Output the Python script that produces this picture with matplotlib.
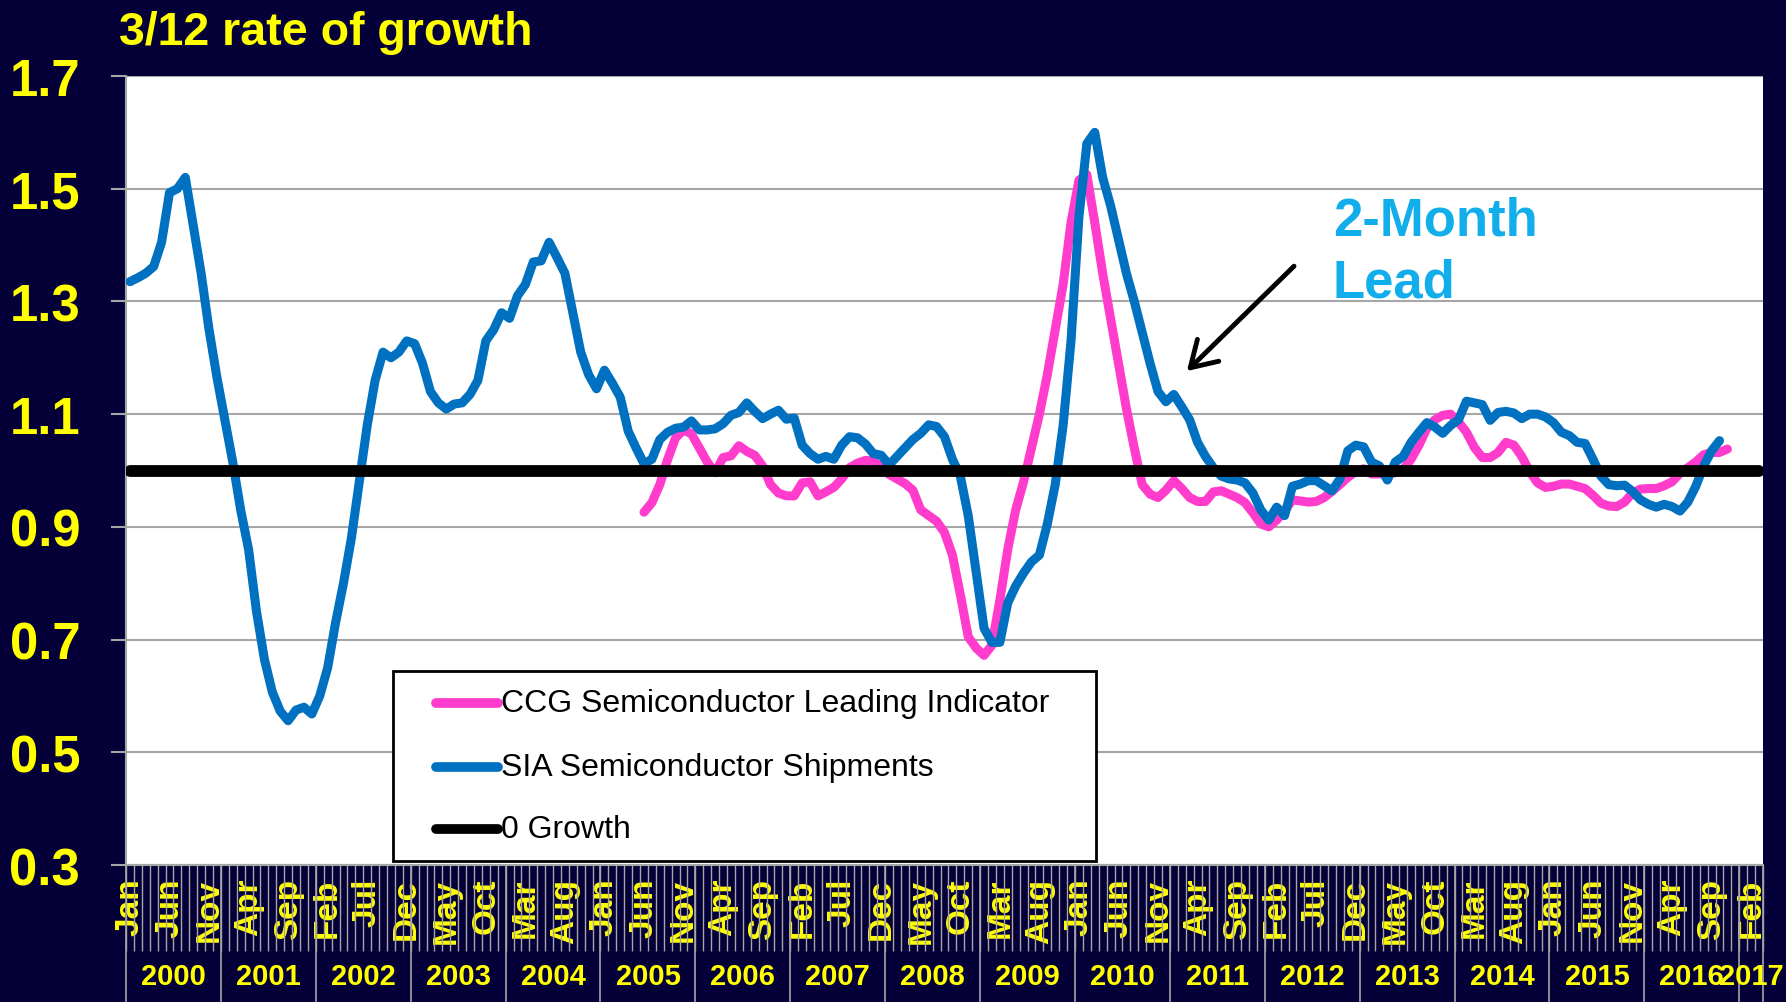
import matplotlib.pyplot as plt
from matplotlib.patches import Rectangle
import numpy as np

plt.rcParams['font.family'] = ['Liberation Sans', 'DejaVu Sans']

BG, YELLOW, GRID = '#050038', '#FFFF00', '#A6A6A6'
PINK, BLUE, CYAN = '#FF3CCB', '#0070C0', '#12AEEB'

MONTH_NAMES = ['Jan', 'Feb', 'Mar', 'Apr', 'May', 'Jun',
               'Jul', 'Aug', 'Sep', 'Oct', 'Nov', 'Dec']
FIRST_YEAR = 2000
N_MONTHS = 207          # Jan 2000 .. Mar 2017 on the category axis
LABEL_EVERY = 5
Y_TICKS = [0.3, 0.5, 0.7, 0.9, 1.1, 1.3, 1.5, 1.7]
ZERO_GROWTH = 1.0

# SIA Semiconductor Shipments, 3/12 ratio, monthly from Jan 2000
SIA_START = 0
SIA_SHIPMENTS = [
    1.335, 1.342, 1.350, 1.362, 1.405, 1.493, 1.500, 1.520, 1.435, 1.350, 1.250, 1.165,
    1.090, 1.015, 0.930, 0.860, 0.750, 0.665, 0.607, 0.573, 0.556, 0.575, 0.580, 0.568,
    0.600, 0.650, 0.730, 0.800, 0.880, 0.980, 1.080, 1.160, 1.210, 1.200, 1.210, 1.230,
    1.225, 1.190, 1.140, 1.120, 1.109, 1.118, 1.120, 1.135, 1.160, 1.230, 1.250, 1.280,
    1.270, 1.310, 1.330, 1.370, 1.372, 1.405, 1.378, 1.350, 1.280, 1.210, 1.170, 1.145,
    1.178, 1.155, 1.130, 1.070, 1.040, 1.012, 1.020, 1.055, 1.068, 1.075, 1.077, 1.088,
    1.072, 1.072, 1.074, 1.083, 1.098, 1.103, 1.120, 1.105, 1.092, 1.100, 1.107, 1.091,
    1.093, 1.045, 1.030, 1.020, 1.025, 1.020, 1.045, 1.060, 1.058, 1.047, 1.030, 1.027,
    1.010, 1.025, 1.040, 1.055, 1.066, 1.081, 1.078, 1.060, 1.020, 0.990, 0.920, 0.820,
    0.720, 0.695, 0.695, 0.765, 0.795, 0.818, 0.838, 0.850, 0.905, 0.975, 1.080, 1.230,
    1.450, 1.580, 1.600, 1.520, 1.470, 1.410, 1.350, 1.300, 1.245, 1.190, 1.140, 1.122,
    1.135, 1.113, 1.090, 1.050, 1.025, 1.005, 0.990, 0.985, 0.983, 0.978, 0.960, 0.930,
    0.912, 0.935, 0.920, 0.972, 0.976, 0.982, 0.982, 0.973, 0.964, 0.985, 1.035, 1.045,
    1.042, 1.015, 1.008, 0.983, 1.015, 1.025, 1.050, 1.068, 1.085, 1.077, 1.066, 1.080,
    1.090, 1.123, 1.120, 1.117, 1.089, 1.103, 1.105, 1.102, 1.092, 1.100, 1.100, 1.095,
    1.085, 1.068, 1.062, 1.050, 1.048, 1.020, 0.990, 0.975, 0.973, 0.974, 0.963, 0.948,
    0.940, 0.935, 0.940, 0.936, 0.928, 0.944, 0.972, 1.008, 1.035, 1.053,
]

# CCG Semiconductor Leading Indicator, monthly from Jun 2005
CCG_START = 65
CCG_INDICATOR = [
    0.926, 0.943, 0.975, 1.020, 1.058, 1.072, 1.065, 1.040, 1.015, 0.996, 1.023, 1.026,
    1.044, 1.034, 1.027, 1.008, 0.975, 0.960, 0.955, 0.955, 0.978, 0.980, 0.955, 0.962,
    0.970, 0.985, 1.005, 1.013, 1.018, 1.017, 1.005, 0.993, 0.985, 0.977, 0.965, 0.930,
    0.920, 0.910, 0.890, 0.850, 0.780, 0.705, 0.685, 0.672, 0.690, 0.770, 0.860, 0.930,
    0.980, 1.040, 1.100, 1.170, 1.250, 1.330, 1.440, 1.515, 1.525, 1.440, 1.350, 1.270,
    1.190, 1.110, 1.040, 0.975, 0.958, 0.952, 0.965, 0.982, 0.968, 0.952, 0.945, 0.945,
    0.962, 0.964, 0.958, 0.952, 0.943, 0.925, 0.905, 0.900, 0.912, 0.928, 0.948, 0.946,
    0.944, 0.945, 0.952, 0.963, 0.975, 0.988, 0.998, 1.003, 0.994, 0.994, 0.994, 0.996,
    1.002, 1.020, 1.045, 1.075, 1.090, 1.098, 1.100, 1.086, 1.068, 1.041, 1.023, 1.023,
    1.032, 1.050, 1.045, 1.025, 0.998, 0.978, 0.970, 0.972, 0.976, 0.976, 0.972, 0.968,
    0.956, 0.942, 0.937, 0.936, 0.944, 0.960, 0.967, 0.968, 0.968, 0.973, 0.980, 0.995,
    1.005, 1.015, 1.028, 1.032, 1.032, 1.038,
]

SERIES_NAMES = ['CCG Semiconductor Leading Indicator',
                'SIA Semiconductor Shipments', '0 Growth']

fig = plt.figure(figsize=(17.86, 10.03), dpi=100, facecolor=BG)
ax = fig.add_axes([0.07055, 0.13659, 0.91657, 0.78664])
ax.set_facecolor('white')

# series, categories centred between tick marks (Excel style)
x_ccg = np.arange(len(CCG_INDICATOR)) + CCG_START + 0.5
x_sia = np.arange(len(SIA_SHIPMENTS)) + SIA_START + 0.5
x_all = np.arange(N_MONTHS) + 0.5
ax.plot(x_ccg, CCG_INDICATOR, color=PINK, lw=6.5, solid_capstyle='round',
        solid_joinstyle='round', zorder=3)
ax.plot(x_sia, SIA_SHIPMENTS, color=BLUE, lw=6.5, solid_capstyle='round',
        solid_joinstyle='round', zorder=4)
ax.plot(x_all, np.full(N_MONTHS, ZERO_GROWTH), color='black', lw=8.5,
        solid_capstyle='round', zorder=5)

ax.set_xlim(0, N_MONTHS); ax.set_ylim(Y_TICKS[0], Y_TICKS[-1])
ax.set_yticks(Y_TICKS, [f"{v:.1f}" for v in Y_TICKS])
ax.yaxis.grid(True, color=GRID, lw=1.5); ax.set_axisbelow(True)
ax.tick_params(axis='y', length=11, width=1.5, color=GRID, pad=22,
               labelsize=36.5, labelcolor=YELLOW)
for lab in ax.get_yticklabels():
    lab.set_fontweight('bold')
for side in ('top', 'right'):
    ax.spines[side].set_visible(False)
for side in ('left', 'bottom'):
    ax.spines[side].set_color(GRID); ax.spines[side].set_linewidth(1.5)

# month labels every 5th category, month ticks between categories
label_idx = np.arange(0, N_MONTHS, LABEL_EVERY)
ax.set_xticks(label_idx + 0.5, [MONTH_NAMES[i % 12] for i in label_idx])
ax.set_xticks(np.arange(N_MONTHS + 1), minor=True)
ax.tick_params(axis='x', which='major', length=0, pad=9, labelsize=24,
               labelcolor=YELLOW, labelrotation=90)
ax.tick_params(axis='x', which='minor', length=62, width=1, color=GRID)
for lab in ax.get_xticklabels():
    lab.set_fontweight('bold')

# year row
xt = ax.get_xaxis_transform()
year_edges = list(range(0, N_MONTHS, 12)) + [N_MONTHS]
for b in year_edges:
    ax.plot([b, b], [0, -0.172], transform=xt, clip_on=False, color=GRID, lw=1.2)
for k, (a, b) in enumerate(zip(year_edges[:-1], year_edges[1:])):
    ax.text((a + b) / 2, -0.1407, str(FIRST_YEAR + k), transform=xt, ha='center',
            va='center', fontsize=21, fontweight='bold', color=YELLOW)

# legend box
ax.add_patch(Rectangle((0.1631, 0.0051), 0.4294, 0.2408, transform=ax.transAxes,
                       facecolor='white', edgecolor='black', lw=2, zorder=6))
legend_y = [0.2053, 0.1242, 0.0456]
legend_colors = [PINK, BLUE, 'black']
for name, yy, c in zip(SERIES_NAMES, legend_y, legend_colors):
    ax.plot([0.1894, 0.2272], [yy, yy], transform=ax.transAxes, color=c, lw=7,
            solid_capstyle='round', zorder=7)
    ax.text(0.2291, yy, name, transform=ax.transAxes, va='center', ha='left',
            fontsize=23, color='black', zorder=7)

# lead annotation
ax.text(152.6, 1.418, '2-Month', color=CYAN, fontsize=38, fontweight='bold',
        va='baseline', ha='left')
ax.text(152.6, 1.308, 'Lead', color=CYAN, fontsize=38, fontweight='bold',
        va='baseline', ha='left')
ax.annotate('', xy=(133.9, 1.173), xytext=(147.95, 1.366),
            arrowprops=dict(arrowstyle='->,head_length=0.9,head_width=0.55',
                            lw=3.5, color='black', mutation_scale=20))

fig.text(0.0666, 0.9551, '3/12 rate of growth', fontsize=33.5, fontweight='bold',
         color=YELLOW, va='baseline')

fig.savefig('out.png', dpi=100, facecolor=BG)
